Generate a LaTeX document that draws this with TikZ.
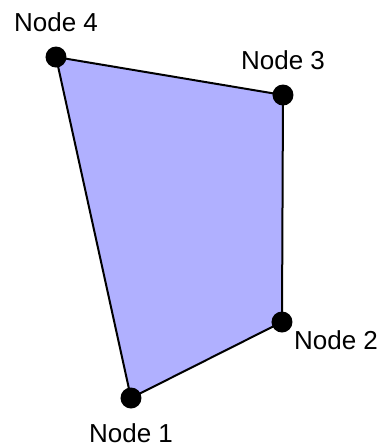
\documentclass[tikz,border=0pt]{standalone}
\usepackage{fontspec}
\setmainfont{Liberation Sans}
\usetikzlibrary{positioning,backgrounds}
\begin{document}
\begin{tikzpicture}[
    x=0.5pt, y=-0.5pt,
    dotnode/.style={circle, fill=black, inner sep=0pt, minimum size=10.5pt},
    nodetext/.style={inner sep=0pt, font=\fontsize{13}{15}\selectfont},
    edgeline/.style={line width=1pt, line join=round}
]

% Colors
\definecolor{quadfill}{RGB}{176,176,255}

\useasboundingbox (0,0) rectangle (382,447);

% Corner points
\node[dotnode] (n1) at (131,398) {};
\node[dotnode] (n2) at (282,322) {};
\node[dotnode] (n3) at (283,95) {};
\node[dotnode] (n4) at (56,57) {};

% Element
\begin{pgfonlayer}{background}
\filldraw[edgeline, fill=quadfill] (n1.center) -- (n2.center) -- (n3.center) -- (n4.center) -- cycle;
\end{pgfonlayer}

% Labels
\node[nodetext, above=7pt of n4] (l4) {Node 4};
\node[nodetext, above=7pt of n3] (l3) {Node 3};
\node[nodetext, below right=0.5pt and 2pt of n2] (l2) {Node 2};
\node[nodetext, below=7pt of n1] (l1) {Node 1};

\end{tikzpicture}
\end{document}
